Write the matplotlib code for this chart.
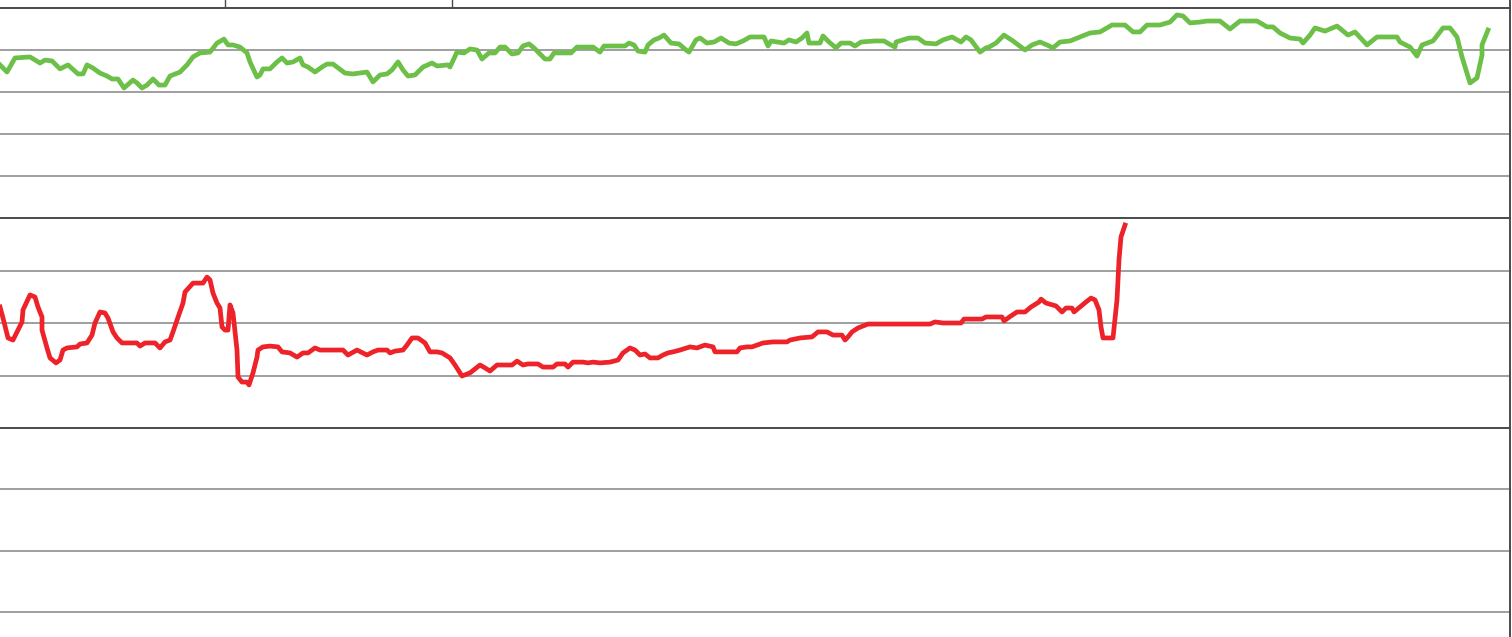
import matplotlib
matplotlib.use("Agg")
import matplotlib.pyplot as plt

# time axis in days, values in panel units (top panel 0-100, middle 0-80)
green_x = [0, 0.7, 1.5, 3.0, 4.0, 4.5, 5.2, 6.0, 6.8, 7.8,
           8.3, 8.7, 9.3, 10.0, 10.7, 11.2, 11.8, 12.4, 13.3, 13.7,
           14.2, 14.7, 15.3, 15.9, 16.5, 17.0, 18.0, 18.7, 19.3, 20.0,
           21.0, 21.7, 22.4, 22.8, 23.3, 24.0, 24.7, 25.0, 25.7, 26.0,
           26.3, 27.0, 27.7, 28.2, 28.7, 29.3, 30.0, 30.3, 30.8, 31.5,
           32.2, 32.7, 33.3, 34.5, 35.3, 36.7, 37.3, 38.0, 38.7, 39.2,
           39.8, 40.3, 40.8, 41.5, 42.3, 43.2, 43.7, 44.8,
           45.0, 45.7, 46.4, 47.0, 47.7, 48.2, 48.9, 49.5, 50.0, 50.5,
           51.2, 51.8, 52.3, 52.9, 53.4, 53.9, 54.5, 55.0, 55.4, 57.1,
           57.7, 59.3, 60.0, 60.4, 62.5, 62.9, 63.4, 63.8, 64.5, 64.8,
           65.4, 65.9, 66.4, 67.1, 67.9, 68.6, 68.9, 69.6, 70.0, 70.7,
           71.4, 72.1, 72.9, 73.6, 74.3, 75.0, 76.4, 76.8, 77.1, 78.4,
           78.9, 79.6, 80.2, 80.7, 80.9, 82.0, 82.3, 82.9, 83.6, 84.1,
           85.0, 85.5, 86.1, 87.5, 88.4, 88.9, 89.5, 89.6, 90.9, 91.8,
           92.5, 93.6, 94.3, 95.2, 96.1, 96.6, 97.1, 98.0, 98.6, 98.9,
           99.6, 100.4,
           101.3, 102.5, 103.2, 104.0, 104.7, 105.3, 106.0, 107.0, 108.0, 109.0,
           110.0, 111.2, 112.5, 113.3, 114.0, 114.7, 116.0, 117.0, 117.7, 118.3,
           119.0, 120.0, 120.7, 122.0, 123.0, 124.0, 125.7, 126.7, 127.3, 128.0,
           129.0, 130.0, 130.3, 131.0, 131.5, 132.5, 133.7, 134.8, 135.5, 136.7,
           137.7, 139.7, 140.0, 141.0, 141.7, 142.2, 143.3, 144.3, 145.0, 145.7,
           146.2, 147.0, 147.7, 148.2, 148.2, 148.8]
green_y = [72.9, 69.5, 76.2, 76.7, 73.8, 75.2, 74.8, 71.0, 72.9, 68.6,
           68.6, 72.9, 71.4, 69.0, 67.6, 66.2, 66.2, 61.9, 65.7, 64.3,
           61.9, 63.3, 66.2, 63.3, 63.3, 67.6, 69.5, 72.9, 76.7, 78.6,
           79.0, 83.3, 85.2, 82.4, 82.4, 81.4, 78.6, 74.3, 67.1, 68.1,
           71.0, 71.0, 74.3, 76.2, 73.8, 74.3, 76.2, 72.9, 71.9, 69.5,
           71.9, 73.3, 73.3, 69.0, 68.6, 69.5, 64.8, 68.1, 68.6, 70.5,
           74.3, 70.5, 67.6, 68.1, 71.9, 73.8, 72.4, 72.9,
           71.9, 79.0, 78.6, 80.5, 80.0, 75.7, 78.6, 78.6, 81.4, 81.4,
           78.1, 78.6, 81.9, 82.9, 81.0, 78.6, 75.7, 75.7, 78.6, 78.6,
           81.4, 81.4, 79.0, 81.9, 81.9, 83.3, 82.4, 79.5, 79.0, 82.4,
           84.8, 85.7, 87.1, 83.3, 82.9, 80.0, 79.0, 84.8, 85.7, 83.3,
           83.8, 85.7, 83.3, 82.9, 84.3, 86.2, 86.2, 81.9, 84.3, 83.3,
           84.8, 83.8, 85.7, 88.1, 83.3, 83.3, 86.7, 83.8, 81.0, 83.3,
           83.3, 81.9, 83.8, 84.3, 84.3, 82.9, 81.4, 83.8, 85.7, 85.7,
           83.3, 82.9, 84.8, 86.2, 83.8, 86.2, 84.8, 79.0, 81.0, 81.4,
           83.3, 87.1,
           84.3, 80.0, 82.4, 83.8, 82.4, 81.0, 83.8, 84.3, 86.2, 88.1,
           88.6, 91.9, 91.9, 88.6, 88.6, 91.9, 91.9, 93.3, 96.7, 96.2,
           92.9, 93.3, 93.8, 93.8, 90.0, 93.8, 93.8, 91.0, 91.0, 88.1,
           85.7, 85.2, 83.3, 87.1, 90.5, 89.0, 91.4, 87.1, 88.6, 82.4,
           86.2, 86.2, 83.8, 81.4, 77.1, 82.4, 84.3, 90.5, 90.5, 86.2,
           76.7, 64.3, 66.7, 77.6, 82.4, 89.5]

red_x = [0, 0.3, 0.8, 1.3, 1.7, 2.2, 2.3, 3.0, 3.5, 3.8,
         4.2, 4.2, 4.7, 5.0, 5.6, 6.0, 6.3, 6.7, 7.7, 8.0,
         8.7, 9.2, 9.5, 10.0, 10.5, 10.8, 11.3, 11.7, 12.2, 13.7,
         14.0, 14.5, 15.5, 16.0, 16.5, 17.0, 17.3, 17.7, 18.3, 18.5,
         19.3, 20.3, 20.7, 21.0, 21.3, 21.7, 22.0, 22.2, 22.5, 22.8,
         23.0, 23.3, 23.7, 23.8, 24.2, 24.7, 24.9, 25.3, 25.7, 25.8,
         26.3, 27.0, 27.8, 28.2, 29.0, 29.7, 30.3, 30.8, 31.5, 32.0,
         34.3, 34.8, 35.7, 36.7, 37.3, 37.8, 38.7, 39.0, 39.5, 40.3,
         40.7, 41.2, 41.8, 42.5, 43.0, 43.7, 44.2, 45.0,
         45.5, 46.2, 47.0, 48.0, 48.5, 49.0, 49.7, 51.2, 51.7, 52.3,
         52.8, 53.8, 54.3, 55.3, 55.7, 56.5, 56.8, 57.3, 58.3, 58.8,
         59.3, 60.0, 61.0, 61.8, 62.3, 63.0, 63.5, 64.0, 64.5, 65.0,
         65.8, 66.3, 66.8, 67.3, 68.0, 69.0, 69.7, 70.5, 71.3, 71.5,
         73.7, 74.0, 74.7, 75.2, 75.7, 76.3, 77.3, 78.7, 79.0, 80.0,
         81.2, 81.8, 82.7, 83.3, 84.2, 84.5, 84.8, 85.2, 85.8, 86.8,
         88.3, 93.0, 93.5, 94.3,
         95.1, 96.1, 96.4, 98.2, 98.6, 100.2, 100.4, 101.1, 101.7, 102.5,
         103.1, 103.9, 104.1, 104.6, 105.6, 106.2, 106.6, 107.2, 107.4, 108.0,
         108.6, 109.1, 109.5, 109.9, 110.1, 110.3, 111.3, 111.7, 111.9, 112.1,
         112.5]
red_y = [46.1, 41.9, 34.3, 33.5, 36.6, 40.4, 45.0, 50.7, 49.9, 46.1,
         42.3, 37.3, 30.5, 26.7, 24.8, 25.9, 29.7, 30.5, 30.9, 32.0,
         32.4, 35.4, 40.0, 44.2, 43.8, 41.9, 36.6, 34.3, 32.4, 32.4,
         31.2, 32.4, 32.4, 30.5, 32.8, 33.5, 36.6, 41.1, 47.6, 51.8,
         55.2, 55.2, 57.5, 56.4, 51.4, 47.6, 45.7, 38.5, 37.3, 37.3,
         46.9, 43.8, 29.7, 19.4, 17.5, 17.5, 16.4, 21.0, 27.0, 29.7,
         30.9, 31.2, 30.9, 29.0, 28.6, 27.0, 28.6, 28.6, 30.5, 29.7,
         29.7, 27.8, 29.7, 27.8, 29.0, 29.7, 29.7, 28.6, 29.3, 29.7,
         31.6, 34.3, 34.3, 32.4, 29.0, 29.0, 28.6, 26.7,
         24.0, 19.8, 21.0, 24.0, 22.9, 21.7, 24.0, 24.0, 25.5, 24.0,
         24.4, 24.4, 23.2, 23.2, 24.4, 24.4, 23.2, 25.1, 25.1, 24.8,
         25.1, 24.8, 25.1, 25.9, 28.6, 30.5, 29.7, 27.8, 28.2, 26.7,
         26.7, 27.8, 28.6, 29.0, 29.7, 30.9, 30.5, 31.6, 30.9, 29.0,
         29.0, 30.5, 30.9, 30.9, 31.6, 32.4, 32.8, 32.8, 33.5, 34.3,
         34.7, 36.6, 36.6, 35.4, 35.4, 33.5, 34.7, 36.6, 38.1, 39.6,
         39.6, 39.6, 40.4, 40.0,
         40.0, 40.0, 41.5, 41.5, 42.3, 42.3, 40.8, 42.7, 44.2, 44.2,
         46.1, 48.0, 49.1, 47.6, 46.5, 44.2, 45.7, 45.7, 44.2, 46.1,
         48.0, 49.5, 48.8, 45.0, 38.5, 34.3, 34.3, 48.8, 64.0, 72.8,
         77.3]

# column separators of the strip above the panels
strip_marks = [22.5, 45.2]

GREEN = "#6cbf47"
RED = "#ee2229"
GRID = "#979797"
EDGE = "#4a4a4a"

W, H = 1512, 637
fig = plt.figure(figsize=(W / 100, H / 100), dpi=100)


def panel(top, bottom, ymax, ticks):
    ax = fig.add_axes([0, 1 - bottom / H, 1510 / W, (bottom - top) / H])
    ax.set_xlim(0, 151)
    ax.set_ylim(0, ymax)
    ax.set_yticks(ticks)
    ax.set_xticks([])
    ax.yaxis.grid(True, color=GRID, lw=1.3)
    ax.tick_params(length=0, labelleft=False, labelbottom=False)
    for s in ("left", "bottom"):
        ax.spines[s].set_visible(False)
    for s in ("top", "right"):
        ax.spines[s].set_color(EDGE)
        ax.spines[s].set_linewidth(1.4)
    ax.set_facecolor("white")
    return ax


strip = panel(-30, 8, 1, [])
for m in strip_marks:
    strip.axvline(m, color=EDGE, lw=1.0)

ax1 = panel(8, 218, 100, [20, 40, 60, 80])
ax1.plot(green_x, green_y, color=GREEN, lw=3.4)

ax2 = panel(218, 428, 80, [20, 40, 60])
ax2.plot(red_x, red_y, color=RED, lw=3.4)

ax3 = panel(428, 673, 80, [20, 40, 60])

fig.savefig("out.png", dpi=100, facecolor="white")
